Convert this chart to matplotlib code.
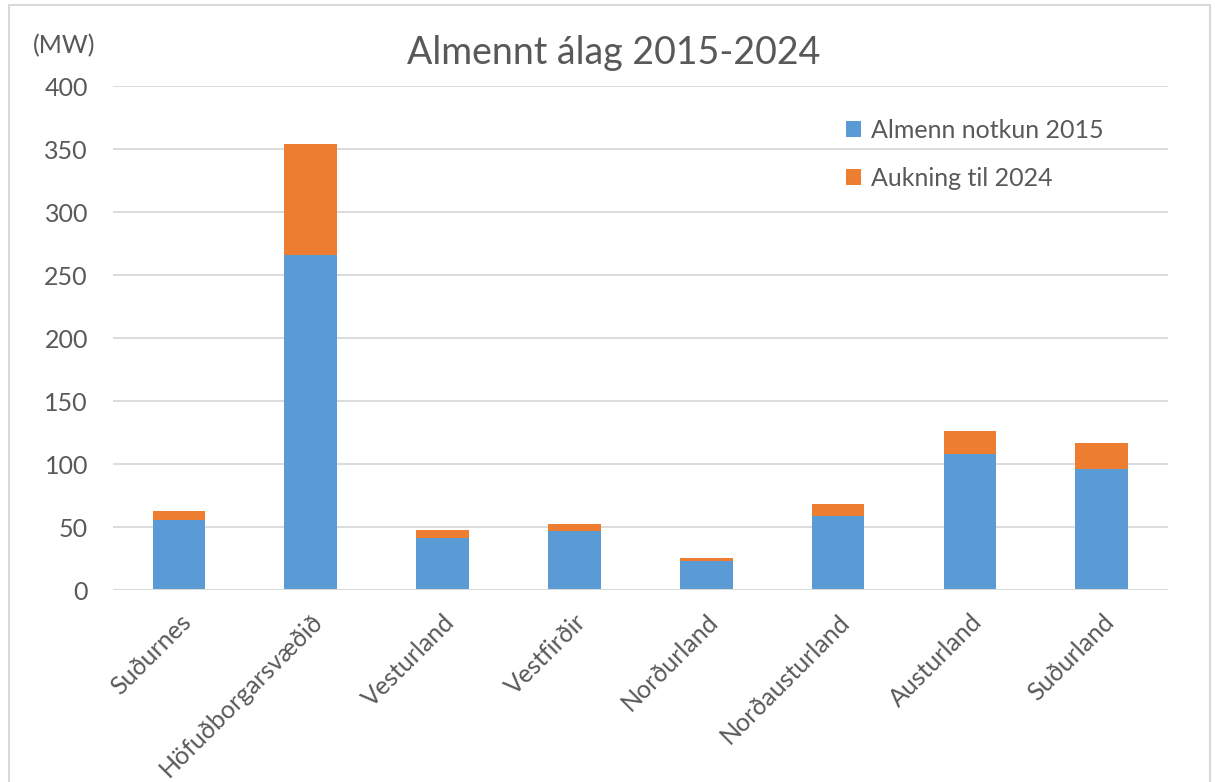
import numpy as np
import matplotlib.pyplot as plt
from matplotlib.patches import Rectangle

plt.rcParams['font.family'] = ['Lato', 'DejaVu Sans']

# Almennt álag eftir svæðum (MW)
regions = ['Suðurnes', 'Höfuðborgarsvæðið', 'Vesturland', 'Vestfirðir',
           'Norðurland', 'Norðausturland', 'Austurland', 'Suðurland']
load_2015 = [55.6, 265.6, 41.8, 46.8, 23.3, 59.3, 108.5, 96.3]
increase_2024 = [7.3, 88.1, 5.8, 5.6, 2.1, 9.5, 17.7, 20.6]

blue = '#5B9BD5'
orange = '#ED7D31'
grey = '#595959'

fig = plt.figure(figsize=(12.15, 7.82), dpi=100)
ax = fig.add_axes([0.093, 0.245, 0.868, 0.645])

x = np.arange(len(regions))
ax.bar(x, load_2015, width=0.4, color=blue, label='Almenn notkun 2015', zorder=3)
ax.bar(x, increase_2024, width=0.4, bottom=load_2015, color=orange,
       label='Aukning til 2024', zorder=3)

ax.set_xlim(-0.5, len(regions) - 0.5)
ax.set_ylim(0, 400)
ax.set_yticks(range(0, 401, 50))
ax.yaxis.grid(True, color='#D9D9D9', linewidth=1.3, zorder=0)
for s in ax.spines.values():
    s.set_visible(False)
ax.axhline(0, color='#D9D9D9', linewidth=1.5, zorder=4)
ax.tick_params(axis='y', length=0, labelsize=18, colors=grey, pad=18)
ax.tick_params(axis='x', length=0, labelsize=18, colors=grey, pad=14)
ax.set_xticks(x)
ax.set_xticklabels(regions, rotation=45, ha='right', rotation_mode='anchor')

fig.text(0.027, 0.932, '(MW)', fontsize=18, color=grey)
fig.text(0.505, 0.918, 'Almennt álag 2015-2024', fontsize=27, color=grey,
         ha='center')

leg = ax.legend(loc='upper left', bbox_to_anchor=(0.674, 0.98), frameon=False,
                fontsize=18, handlelength=0.6, handleheight=0.6,
                handletextpad=0.4, labelspacing=1.0)
for t in leg.get_texts():
    t.set_color(grey)

# ytri rammi
fig.patches.append(Rectangle((0.007, -0.01), 0.989, 1.003, transform=fig.transFigure,
                             fill=False, edgecolor='#D9D9D9', linewidth=1.5))

fig.savefig('out.png', dpi=100, facecolor='white')
